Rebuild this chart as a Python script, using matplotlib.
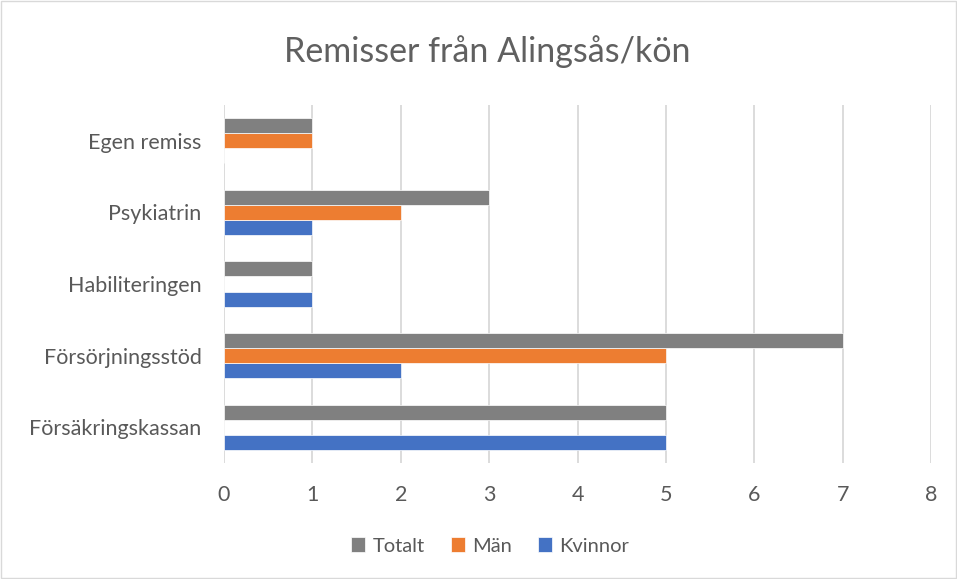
import matplotlib
matplotlib.use("Agg")
import matplotlib.pyplot as plt
import numpy as np
from matplotlib.patches import Rectangle

categories = ["Försäkringskassan", "Försörjningsstöd", "Habiliteringen", "Psykiatrin", "Egen remiss"]
kvinnor = [5, 2, 1, 1, 0]
man = [0, 5, 0, 2, 1]
totalt = [5, 7, 1, 3, 1]
xticks = [0, 1, 2, 3, 4, 5, 6, 7, 8]

plt.rcParams['font.family'] = ['Lato', 'DejaVu Sans']

fig = plt.figure(figsize=(9.57, 5.79), dpi=100)
ax = fig.add_axes([0.234, 0.2003, 0.739, 0.6184])

y = np.arange(len(categories))
h = 0.21
col_k, col_m, col_t = "#4472C4", "#ED7D31", "#808080"
ax.barh(y - h, kvinnor, height=h, color=col_k, edgecolor="white", linewidth=0.5, label="Kvinnor", zorder=3)
ax.barh(y, man, height=h, color=col_m, edgecolor="white", linewidth=0.5, label="Män", zorder=3)
ax.barh(y + h, totalt, height=h, color=col_t, edgecolor="white", linewidth=0.5, label="Totalt", zorder=3)

ax.set_xlim(0, 8)
ax.set_ylim(-0.5, len(categories) - 0.5)
ax.set_xticks(xticks)
ax.set_yticks(y)
ax.set_yticklabels(categories)
ax.tick_params(axis='both', length=0, labelsize=15.5, colors="#595959")
ax.tick_params(axis='y', pad=16)
ax.tick_params(axis='x', pad=16)
ax.grid(axis='x', color="#D9D9D9", linewidth=1.3, zorder=0)
for s in ax.spines.values():
    s.set_visible(False)

fig.suptitle("Remisser från Alingsås/kön", x=0.509, y=0.94, fontsize=24.5, color="#606060")

handles, labels = ax.get_legend_handles_labels()
order = [2, 1, 0]
fig.legend([handles[i] for i in order], [labels[i] for i in order], loc="center", bbox_to_anchor=(0.512, 0.057),
           ncol=3, frameon=False, fontsize=14.5, labelcolor="#595959",
           handlelength=0.7, handleheight=0.7, handletextpad=0.35, columnspacing=1.3)

fig.add_artist(Rectangle((0.001, 0.001), 0.998, 0.997, transform=fig.transFigure,
                         fill=False, edgecolor="#D9D9D9", linewidth=1))

fig.savefig("out.png", dpi=100, facecolor="white")
